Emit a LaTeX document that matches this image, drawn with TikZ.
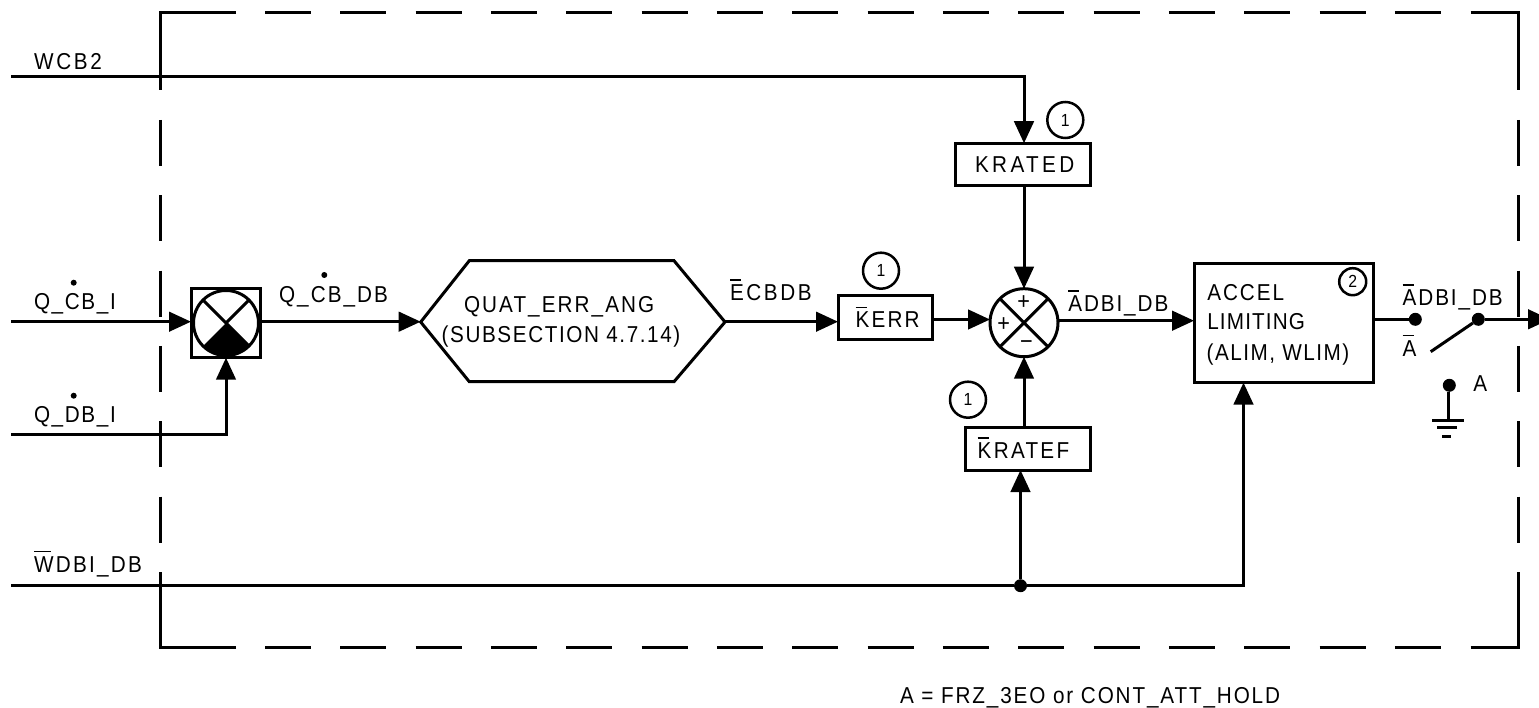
\documentclass[tikz,border=0pt]{standalone}
\usepackage{fontspec}
\setmainfont[FakeStretch=0.9]{Liberation Sans}
\usetikzlibrary{arrows.meta}
\newcommand\ov[1]{\setbox0\hbox{#1}\rlap{\rule[0.86em]{\dimexpr\wd0-0.12em\relax}{1.5pt}}#1}
\newcommand\lsp[1]{\addfontfeature{LetterSpace=#1}}
\tikzset{
  wire/.style={line width=3pt},
  arr/.style={wire,-{Triangle[length=22pt,width=19.5pt]}},
  bx/.style={draw,line width=3pt,rectangle,inner sep=0pt,outer sep=0pt},
  bub/.style={draw,line width=2.5pt,circle,inner sep=0pt,outer sep=0pt,minimum size=36pt,font=\fontsize{17.5}{21}\selectfont},
  sumc/.style={draw,line width=3pt,circle,inner sep=0pt,outer sep=0pt},
  lbl/.style={anchor=base west,inner sep=0pt,outer sep=0pt,font=\fontsize{23}{27}\selectfont},
  sgn/.style={inner sep=0pt,outer sep=0pt,font=\fontsize{24}{28}\selectfont},
  border/.style={line width=3pt},
  dsh/.style={border,dash pattern=on 46pt off 29.33pt},
  dotn/.style={fill=black,circle,inner sep=0pt,outer sep=0pt,minimum size=13pt},
  smalldot/.style={fill=black,circle,inner sep=0pt,outer sep=0pt,minimum size=6pt}
}
\begin{document}
\begin{tikzpicture}[x=1pt,y=-1pt]
\useasboundingbox (0,0) rectangle (1539,708);
\clip (0,0) rectangle (1539,708);
\fill[white] (0,0) rectangle (1539,708);
% dashed border
\draw[border] (236,13) -- (160,13) -- (160,90);
\draw[border] (1470.5,13) -- (1518.3,13) -- (1518.3,90);
\draw[border] (236,647.7) -- (160,647.7) -- (160,572);
\draw[border] (1470.5,647.7) -- (1518.3,647.7) -- (1518.3,572);
\draw[dsh] (265,13) -- (1450,13);
\draw[dsh] (265,647.7) -- (1450,647.7);
\draw[dsh] (160,120) -- (160,550);
\draw[dsh] (1518.3,120) -- (1518.3,550);
% levels and free ends
\coordinate (wcbin) at (11,77);
\coordinate (qcin) at (11,321.7);
\coordinate (qdin) at (11,434.3);
\coordinate (wdin) at (11,585.7);
\coordinate (ykerr) at (0,319.5);
\coordinate (ysum) at (0,320.7);
\coordinate (ymix) at (0,321.7);
\coordinate (yout) at (0,319.3);
\coordinate (hexL) at (420.7,322);
\coordinate (hexTL) at (469.3,260.7);
\coordinate (hexTR) at (674,260.7);
\coordinate (hexR) at (725,322);
\coordinate (hexBR) at (674,381.7);
\coordinate (hexBL) at (469.3,381.7);
\coordinate (out) at (1550,319.3);
\coordinate (bladeend) at (1430.7,351.7);
\coordinate (g0) at (1448.3,420.3);
\coordinate (g1l) at (1432.3,420.3);
\coordinate (g1r) at (1464,420.3);
\coordinate (g2l) at (1437,427.7);
\coordinate (g2r) at (1456.7,427.7);
\coordinate (g3l) at (1442.3,436.3);
\coordinate (g3r) at (1450.7,436.3);
\coordinate (acc) at (1243.5,585.7);
% blocks
\node[bx,minimum width=69pt,minimum height=69pt] (mixbox) at (225.5,323.2) {};
\node[sumc,minimum size=65pt] (mix) at (226,323) {};
\fill (mix.center) -- (mix.225) arc[start angle=-135,end angle=-45,radius=32.5pt] -- cycle;
\draw[line width=3pt] (mix.135) -- (mix.-45) (mix.45) -- (mix.center);
\draw[line width=3pt] (hexL) -- (hexTL) -- (hexTR) -- (hexR) -- (hexBR) -- (hexBL) -- cycle;
\node[bx,minimum width=94pt,minimum height=43.5pt] (kerr) at (885,317.7) {};
\node[bx,minimum width=135pt,minimum height=42.7pt] (krated) at (1022.5,164.6) {};
\node[bx,minimum width=125pt,minimum height=42.7pt] (kratef) at (1027.5,448.7) {};
\node[bx,minimum width=179.3pt,minimum height=118.7pt] (accel) at (1283.7,323.3) {};
\node[sumc,minimum size=68pt] (sum) at (1024,322.7) {};
\draw[line width=3pt] (sum.135) -- (sum.-45) (sum.45) -- (sum.-135);
\node[sgn] (p1) at (1023.7,302.3) {+};
\node[sgn] (p2) at (1003.7,324.3) {+};
\node[sgn] (m1) at (1026.3,345.3) {−};
% bubbles
\node[bub] (b1) at (1065.3,120) {1};
\node[bub] (b2) at (881,270.7) {1};
\node[bub] (b3) at (968,399.7) {1};
\node[bub,minimum size=27pt,line width=2.5pt] (b4) at (1352.7,281.7) {2};
% connectors
\draw[arr] (wcbin) -- (sum.north |- wcbin) -- (sum.north |- krated.north);
\draw[arr] (sum.north |- krated.south) -- (sum.north);
\draw[arr] (qcin) -- (mixbox.west |- qcin);
\draw[arr] (qdin) -- (mix.south |- qdin) -- (mix.south |- mixbox.south);
\draw[arr] (mixbox.east |- ymix) -- (hexL |- ymix);
\draw[arr] (hexR |- ymix) -- (kerr.west |- ymix);
\draw[arr] (kerr.east |- ykerr) -- (sum.west |- ykerr);
\draw[arr] (sum.east |- ysum) -- (accel.west |- ysum);
\node[dotn] (junc) at (1020.5,585.7) {};
\draw[wire] (wdin) -- (junc);
\draw[arr] (junc) -- (acc) -- (acc |- accel.south);
\draw[arr] (junc) -- (junc |- kratef.south);
\draw[arr] (sum.south |- kratef.north) -- (sum.south);
\node[dotn] (sw1) at (1415.3,319.3) {};
\node[dotn] (sw2) at (1478.3,319.3) {};
\node[dotn] (sw3) at (1449.3,385.3) {};
\draw[wire] (accel.east |- yout) -- (sw1);
\draw[arr] (sw2) -- (out);
\draw[wire] (sw2) -- (bladeend);
\draw[wire] (sw3.south -| g0) -- (g0);
\draw[wire] (g1l) -- (g1r);
\draw[wire] (g2l) -- (g2r);
\draw[wire] (g3l) -- (g3r);
% labels
\node[lbl] (t1) at (34,70) {\lsp{11.9}WCB2};
\node[lbl] (t2) at (34,310) {\lsp{7.1}Q\_CB\_I};
\node[lbl] (t3) at (34,422) {\lsp{7.1}Q\_DB\_I};
\node[lbl] (t4) at (34,572) {\lsp{9.9}\ov{W}DBI\_DB};
\node[lbl] (t5) at (279,302.7) {\lsp{9}Q\_CB\_DB};
\node[smalldot] (d1) at (73.7,282.7) {};
\node[smalldot] (d2) at (73.7,395.7) {};
\node[smalldot] (d3) at (324.3,275) {};
\node[lbl] (t6) at (464,312.7) {\lsp{9}QUAT\_ERR\_ANG};
\node[lbl] (t7) at (441.7,342.7) {\lsp{6.9}(SUBSECTION 4.7.14)};
\node[lbl] (t8) at (730,300.7) {\lsp{11.3}\ov{E}CBDB};
\node[lbl] (t9) at (855.7,328) {\lsp{9.3}\ov{K}ERR};
\node[lbl] (t10) at (975,172.7) {\lsp{14.7}KRATED};
\node[lbl] (t11) at (977.7,458.3) {\lsp{9.9}\ov{K}RATEF};
\node[lbl] (t12) at (1068.3,311.7) {\lsp{8.3}\ov{A}DBI\_DB};
\node[lbl] (t13) at (1207.3,300.7) {\lsp{8.4}ACCEL};
\node[lbl] (t14) at (1207.3,330) {\lsp{5}LIMITING};
\node[lbl] (t15) at (1206.7,360) {\lsp{6.5}(ALIM, WLIM)};
\node[lbl] (t16) at (1402.7,305.7) {\lsp{8.3}\ov{A}DBI\_DB};
\node[lbl] (t17) at (1402.7,356) {\ov{A}};
\node[lbl] (t18) at (1473.3,391.7) {A};
\node[lbl] (t19) at (900,703) {\lsp{8.1}A = FRZ\_3EO or CONT\_ATT\_HOLD};
\end{tikzpicture}
\end{document}
